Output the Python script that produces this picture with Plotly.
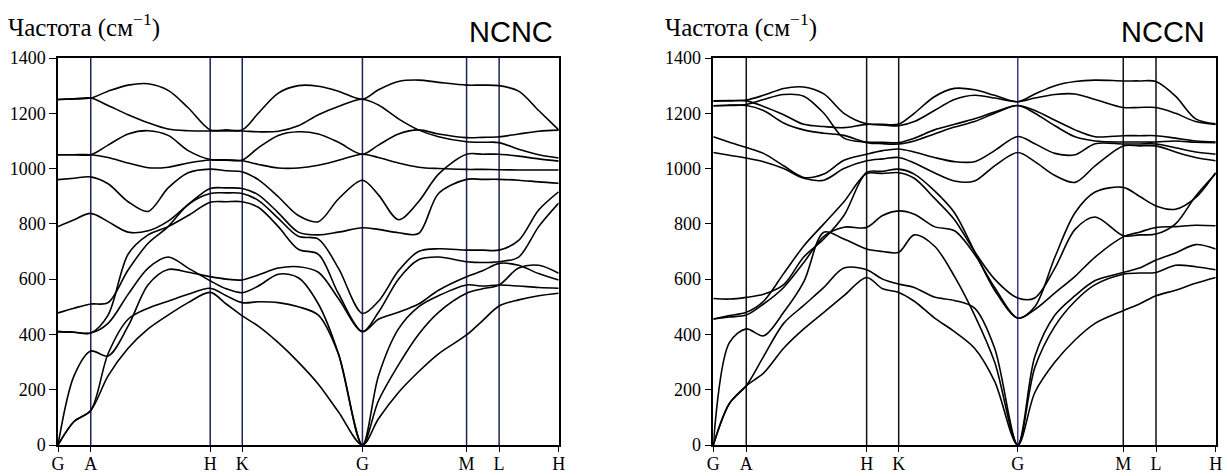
import plotly.graph_objects as go

# ---------------- data ----------------
# k-path grids (path coordinate, arbitrary units)
KL = [0, 0.16, 0.327, 0.5, 0.7, 0.9, 1.1, 1.3, 1.52, 1.68, 1.84, 2.0, 2.2, 2.4, 2.6, 2.8, 3.04,
      3.2, 3.4, 3.6, 3.8, 4.08, 4.24, 4.405, 4.6, 4.8, 5.0]
KR = [0, 0.16, 0.328, 0.5, 0.7, 0.9, 1.1, 1.3, 1.526, 1.685, 1.845, 2.0, 2.2, 2.4, 2.6, 2.8, 3.03,
      3.2, 3.4, 3.6, 3.8, 4.08, 4.24, 4.406, 4.6, 4.8, 5.0]
SYM_LEFT = [0, 0.327, 1.52, 1.84, 3.04, 4.08, 4.405, 5.0]
SYM_RIGHT = [0, 0.328, 1.526, 1.845, 3.03, 4.08, 4.406, 5.0]
SYM_LABELS = ["G", "A", "H", "K", "G", "M", "L", "H"]
Y_TICKS = [0, 200, 400, 600, 800, 1000, 1200, 1400]

# NCNC bands (cm^-1)
ncnc_b1 = [0, 85, 125, 250, 350, 420, 470, 515, 552, 510, 467, 430, 370, 300, 220, 120, 0,
           95, 190, 265, 330, 398, 450, 503, 525, 540, 549]
ncnc_b2 = [0, 85, 125, 330, 455, 495, 520, 545, 567, 540, 515, 518, 515, 500, 470, 330, 0,
           160, 290, 400, 480, 549, 565, 579, 640, 650, 621]
ncnc_b3 = [0, 250, 340, 322, 430, 580, 635, 625, 609, 600, 597, 615, 640, 645, 625, 530, 410,
           455, 480, 510, 560, 609, 630, 657, 650, 620, 597]
ncnc_b4 = [410, 408, 405, 440, 545, 640, 680, 640, 594, 565, 551, 575, 618, 605, 510, 330, 0,
           250, 420, 500, 540, 579, 575, 579, 575, 570, 567]
ncnc_b5 = [410, 408, 405, 470, 690, 760, 790, 830, 878, 880, 880, 860, 790, 708, 690, 548, 410,
           480, 600, 670, 680, 663, 660, 663, 680, 790, 875]
ncnc_b6 = [478, 495, 510, 515, 633, 730, 790, 870, 910, 912, 910, 885, 820, 755, 745, 640, 476,
           520, 630, 700, 710, 705, 705, 705, 740, 850, 916]
ncnc_b7 = [790, 815, 838, 808, 770, 775, 810, 870, 928, 930, 928, 905, 840, 770, 760, 770, 786,
           780, 768, 765, 910, 961, 961, 961, 958, 952, 947]
ncnc_b8 = [960, 965, 970, 945, 880, 845, 930, 985, 998, 992, 988, 960, 898, 830, 808, 890, 958,
           905, 815, 880, 980, 1052, 1052, 1052, 1045, 1035, 1027]
ncnc_b9 = [1050, 1050, 1050, 1040, 1020, 1003, 1005, 1020, 1031, 1030, 1028, 1015, 1002, 1002, 1012, 1030, 1052,
           1040, 1020, 1005, 1000, 997, 997, 996, 995, 995, 995]
ncnc_b10 = [1050, 1050, 1050, 1085, 1125, 1137, 1120, 1065, 1033, 1032, 1031, 1075, 1120, 1133, 1125, 1095, 1052,
            1085, 1125, 1140, 1125, 1112, 1113, 1115, 1125, 1135, 1139]
ncnc_b11 = [1250, 1252, 1255, 1228, 1195, 1166, 1143, 1137, 1136, 1136, 1136, 1133, 1135, 1155, 1195, 1225, 1251,
            1230, 1180, 1140, 1115, 1097, 1095, 1094, 1070, 1050, 1038]
ncnc_b12 = [1250, 1252, 1255, 1280, 1302, 1307, 1283, 1220, 1140, 1140, 1140, 1200, 1273, 1300, 1298, 1280, 1251,
            1285, 1315, 1320, 1312, 1302, 1302, 1300, 1280, 1210, 1140]

# NCCN bands (cm^-1)
nccn_b1 = [0, 150, 214, 260, 350, 420, 480, 540, 606, 565, 552, 520, 460, 410, 350, 230, 0,
           190, 300, 380, 440, 486, 510, 540, 560, 585, 606]
nccn_b2 = [0, 150, 214, 320, 440, 505, 570, 640, 634, 600, 582, 570, 535, 523, 495, 350, 0,
           280, 430, 520, 580, 618, 622, 624, 650, 645, 634]
nccn_b3 = [0, 370, 420, 395, 480, 590, 770, 745, 709, 700, 697, 760, 720, 610, 470, 300, 0,
           320, 470, 540, 595, 624, 640, 669, 695, 725, 709]
nccn_b4 = [456, 463, 470, 510, 570, 660, 755, 788, 787, 830, 847, 835, 790, 775, 690, 570, 459,
           500, 680, 840, 915, 932, 900, 865, 853, 895, 986]
nccn_b5 = [456, 468, 480, 520, 620, 720, 800, 880, 982, 982, 985, 965, 893, 815, 700, 600, 532,
           532, 640, 780, 825, 757, 760, 763, 800, 900, 982]
nccn_b6 = [530, 528, 534, 545, 580, 680, 745, 830, 986, 990, 998, 980, 920, 840, 700, 560, 459,
           490, 550, 610, 680, 753, 770, 787, 790, 795, 793]
nccn_b7 = [1058, 1048, 1038, 1025, 1000, 965, 958, 1000, 1028, 1035, 1040, 1020, 985, 955, 955, 1010, 1058,
           1025, 975, 950, 1010, 1082, 1082, 1082, 1060, 1040, 1028]
nccn_b8 = [1115, 1095, 1076, 1055, 1010, 968, 980, 1030, 1052, 1065, 1071, 1060, 1040, 1025, 1025, 1065, 1116,
           1090, 1055, 1050, 1090, 1089, 1089, 1089, 1075, 1060, 1052]
nccn_b9 = [1227, 1228, 1228, 1210, 1165, 1140, 1128, 1120, 1094, 1090, 1089, 1100, 1125, 1150, 1170, 1200, 1228,
           1200, 1155, 1115, 1100, 1096, 1096, 1096, 1100, 1095, 1094]
nccn_b10 = [1227, 1230, 1232, 1250, 1268, 1262, 1200, 1110, 1096, 1095, 1094, 1110, 1140, 1160, 1180, 1205, 1228,
            1210, 1175, 1140, 1115, 1119, 1119, 1119, 1110, 1100, 1096]
nccn_b11 = [1245, 1245, 1245, 1225, 1195, 1160, 1152, 1148, 1160, 1158, 1155, 1170, 1210, 1250, 1265, 1255, 1242,
            1255, 1268, 1270, 1250, 1221, 1221, 1221, 1200, 1170, 1160]
nccn_b12 = [1245, 1246, 1248, 1265, 1290, 1295, 1270, 1200, 1162, 1160, 1161, 1200, 1260, 1290, 1285, 1265, 1242,
            1270, 1300, 1315, 1320, 1317, 1317, 1315, 1262, 1180, 1162]

NCNC = [ncnc_b1, ncnc_b2, ncnc_b3, ncnc_b4, ncnc_b5, ncnc_b6, ncnc_b7, ncnc_b8,
        ncnc_b9, ncnc_b10, ncnc_b11, ncnc_b12]
NCCN = [nccn_b1, nccn_b2, nccn_b3, nccn_b4, nccn_b5, nccn_b6, nccn_b7, nccn_b8,
        nccn_b9, nccn_b10, nccn_b11, nccn_b12]

# ---------------- figure ----------------
W, H = 1228, 476
fig = go.Figure()

for band in NCNC:
    fig.add_trace(go.Scatter(x=KL, y=band, mode="lines", xaxis="x", yaxis="y",
                             line=dict(color="black", width=1.6, shape="spline", smoothing=0.9),
                             hoverinfo="skip", showlegend=False))
for band in NCCN:
    fig.add_trace(go.Scatter(x=KR, y=band, mode="lines", xaxis="x2", yaxis="y2",
                             line=dict(color="black", width=1.6, shape="spline", smoothing=0.9),
                             hoverinfo="skip", showlegend=False))

shapes = []
for k in SYM_LEFT[1:-1]:
    shapes.append(dict(type="line", xref="x", yref="y", x0=k, x1=k, y0=0, y1=1400,
                       line=dict(color="#1e2354", width=1.5), layer="below"))
for i, k in enumerate(SYM_RIGHT[1:-1]):
    col = "#3b3e84" if SYM_LABELS[i + 1] == "G" else "#111111"
    shapes.append(dict(type="line", xref="x2", yref="y2", x0=k, x1=k, y0=0, y1=1400,
                       line=dict(color=col, width=1.5), layer="below"))

serif = "Liberation Serif, Times New Roman, serif"
sans = "Liberation Sans, Arial, sans-serif"

def xax(domain, sym, anchor):
    return dict(domain=domain, range=[0, 5.0], anchor=anchor, automargin=False,
                showgrid=False, zeroline=False,
                showline=True, mirror=True, linecolor="black", linewidth=1.5,
                ticks="outside", ticklen=5, tickwidth=1.3, tickcolor="black",
                tickvals=sym, ticktext=SYM_LABELS, ticklabelstandoff=-3,
                tickfont=dict(family=serif, size=18, color="black"))

def yax(domain, anchor):
    return dict(domain=domain, range=[0, 1400], anchor=anchor, automargin=False,
                showgrid=False, zeroline=False,
                showline=True, mirror=True, linecolor="black", linewidth=1.5,
                ticks="outside", ticklen=7, tickwidth=1.3, tickcolor="black",
                tickvals=Y_TICKS, ticktext=[str(v) for v in Y_TICKS],
                tickfont=dict(family=serif, size=18, color="black"))

ydom = [1 - 445 / H, 1 - 58 / H]
title_txt = "Частота (см<sup>−1</sup>)"
fig.update_layout(
    width=W, height=H, margin=dict(l=0, r=0, t=0, b=0, autoexpand=False),
    paper_bgcolor="white", plot_bgcolor="white",
    xaxis=xax([58 / W, 558.7 / W], SYM_LEFT, "y"),
    yaxis=yax(ydom, "x"),
    xaxis2=xax([713.3 / W, 1215.7 / W], SYM_RIGHT, "y2"),
    yaxis2=yax(ydom, "x2"),
    shapes=shapes,
    annotations=[
        dict(text=title_txt, x=6 / W, y=1 - 25 / H, xref="paper", yref="paper",
             xanchor="left", yanchor="middle", showarrow=False,
             font=dict(family=serif, size=25, color="black")),
        dict(text=title_txt, x=663 / W, y=1 - 25 / H, xref="paper", yref="paper",
             xanchor="left", yanchor="middle", showarrow=False,
             font=dict(family=serif, size=25, color="black")),
        dict(text="NCNC", x=511 / W, y=1 - 32 / H, xref="paper", yref="paper",
             xanchor="center", yanchor="middle", showarrow=False,
             font=dict(family=sans, size=29, color="black")),
        dict(text="NCCN", x=1163 / W, y=1 - 32 / H, xref="paper", yref="paper",
             xanchor="center", yanchor="middle", showarrow=False,
             font=dict(family=sans, size=29, color="black")),
    ],
)

fig.write_html("out.html", config={"displayModeBar": False},
               post_script="document.body.style.margin='0';document.body.style.padding='0';"
                           "document.documentElement.style.overflow='hidden';")
